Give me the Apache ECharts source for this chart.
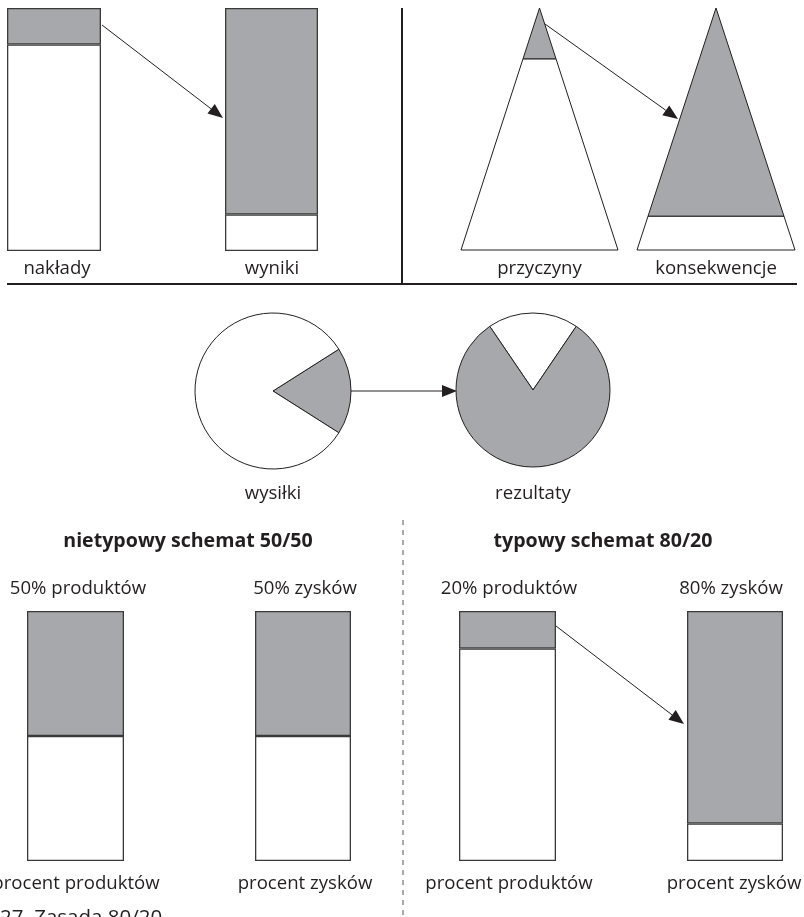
<!DOCTYPE html>
<html><head><meta charset="utf-8">
<script src="https://cdn.jsdelivr.net/npm/echarts@6/dist/echarts.min.js"></script>
<style>html,body{margin:0;padding:0;background:#fff}#c{width:804px;height:917px}</style>
</head><body><div id="c"></div>
<script>
// ---------- data ----------
const barCategories = ['nakłady', 'wyniki', 'procent produktów', 'procent zysków', 'procent produktów', 'procent zysków'];
const barShaded = [15, 85, 50, 50, 15, 85];   // grey part (top), % of bar height
const barPlain  = [85, 15, 50, 50, 85, 15];   // white part (bottom)
const triangleCategories = ['przyczyny', 'konsekwencje'];
const triangleShaded = [21, 86];              // grey part from apex, % of height
const pieCategories = ['wysiłki', 'rezultaty'];
const pieShaded = [18, 81];
const piePlain  = [82, 19];
const topLabels = ['50% produktów', '50% zysków', '20% produktów', '80% zysków'];
const sectionTitles = ['nietypowy schemat 50/50', 'typowy schemat 80/20'];
const caption = '27. Zasada 80/20';

// ---------- layout & style ----------
const GREY = '#a7a8ab', INK = '#231f20', FONT = '"Open Sans", "Noto Sans", sans-serif';
const LABEL_FONT = '18.6px ' + FONT;
const barBoxes = [[7, 8, 94, 243], [225, 8, 93, 243], [27, 611, 97, 250], [255, 611, 96, 250], [459, 611, 97, 250], [687, 611, 96, 250]];
const barLabelY = [269, 269, 884, 884, 884, 884];
const barLabelX = [57, 272, 76, 305, 509, 734];
const triBoxes = [[461, 8, 157, 242], [637, 8, 158, 242]];
const pieGeom = [[273, 391, 78], [533, 390, 77]];
const topLabelPos = [[78, 589], [305, 589], [509, 589], [731, 589]];
const titlePos = [[188, 541], [603, 541]];
const arrows = [[102, 25, 223, 118], [545, 24, 678, 119], [351, 391, 457, 391], [556, 626, 684, 724]];

const grid = [], xAxis = [], yAxis = [], series = [], graphic = [];
const hidden = { show: false };
function axisOff(o) { return Object.assign({ axisLine: hidden, axisTick: hidden, axisLabel: hidden, splitLine: hidden }, o); }
function label(text, x, y, font, align) {
  return { type: 'text', x: x, y: y, style: { text: text, fill: INK, font: font || LABEL_FONT, align: align || 'center', verticalAlign: 'middle' } };
}

barCategories.forEach((cat, i) => {
  const b = barBoxes[i];
  grid.push({ left: b[0], top: b[1], width: b[2], height: b[3] });
  xAxis.push(axisOff({ type: 'category', gridIndex: i, data: [cat] }));
  yAxis.push(axisOff({ type: 'value', gridIndex: i, min: 0, max: 100 }));
  const common = { type: 'bar', xAxisIndex: i, yAxisIndex: i, stack: 's' + i, barWidth: '100%', silent: true };
  series.push(Object.assign({ data: [barPlain[i]], itemStyle: { color: '#fff', borderColor: '#3a3a3a', borderWidth: 1.3 } }, common));
  series.push(Object.assign({ data: [barShaded[i]], itemStyle: { color: GREY, borderColor: '#3a3a3a', borderWidth: 1.3 } }, common));
  graphic.push(label(cat, barLabelX[i], barLabelY[i]));
});

triangleCategories.forEach((cat, j) => {
  const gi = grid.length, t = triBoxes[j];
  grid.push({ left: t[0], top: t[1], width: t[2], height: t[3] });
  xAxis.push(axisOff({ type: 'value', gridIndex: gi, min: -1, max: 1 }));
  yAxis.push(axisOff({ type: 'value', gridIndex: gi, min: 0, max: 100, inverse: true }));
  series.push({
    type: 'custom', xAxisIndex: gi, yAxisIndex: gi, clip: false, silent: true,
    data: [[0, triangleShaded[j]]],
    renderItem: function (params, api) {
      const s = api.value(1);
      const apex = api.coord([0, 0]), l = api.coord([-s / 100, s]), r = api.coord([s / 100, s]);
      const bl = api.coord([-1, 100]), br = api.coord([1, 100]);
      return { type: 'group', children: [
        { type: 'polygon', shape: { points: [l, r, br, bl] }, style: { fill: '#fff', stroke: INK, lineWidth: 1 } },
        { type: 'polygon', shape: { points: [apex, r, l] }, style: { fill: GREY, stroke: INK, lineWidth: 1 } }
      ] };
    }
  });
  graphic.push(label(cat, t[0] + t[2] / 2, 269));
});

pieCategories.forEach((cat, k) => {
  const g = pieGeom[k];
  const shadedItem = { name: 'shaded', value: pieShaded[k], itemStyle: { color: GREY } };
  const plainItem = { name: 'plain', value: piePlain[k], itemStyle: { color: '#fff' } };
  const first = k === 0 ? shadedItem : plainItem;
  const total = pieShaded[k] + piePlain[k];
  // first sector centred on the right (k=0) or on the top (k=1)
  const startAngle = (k === 0 ? 0 : 90) + (first.value / total) * 180;
  series.push({
    type: 'pie', center: [g[0], g[1]], radius: g[2], startAngle: startAngle, clockwise: true, silent: true,
    label: hidden, labelLine: hidden, emphasis: { disabled: true },
    itemStyle: { borderColor: INK, borderWidth: 1 },
    data: k === 0 ? [shadedItem, plainItem] : [plainItem, shadedItem]
  });
  graphic.push(label(cat, g[0], 494));
});

topLabels.forEach((t, i) => graphic.push(label(t, topLabelPos[i][0], topLabelPos[i][1])));
sectionTitles.forEach((t, i) => graphic.push(label(t, titlePos[i][0], titlePos[i][1], 'bold 19.6px ' + FONT)));
graphic.push(label(caption, 0, 918, '20.5px ' + FONT, 'left'));

// dividers
graphic.push({ type: 'line', shape: { x1: 7, y1: 284, x2: 797, y2: 284 }, style: { stroke: INK, lineWidth: 2 } });
graphic.push({ type: 'line', shape: { x1: 402, y1: 8, x2: 402, y2: 284 }, style: { stroke: INK, lineWidth: 2 } });
graphic.push({ type: 'line', shape: { x1: 403, y1: 520, x2: 403, y2: 917 }, style: { stroke: '#555', lineWidth: 1, lineDash: [5, 5] } });

// arrows
arrows.forEach(a => {
  const dx = a[2] - a[0], dy = a[3] - a[1], len = Math.hypot(dx, dy);
  const ux = dx / len, uy = dy / len, nx = -uy, ny = ux, L = 15, W = 6;
  const bx = a[2] - ux * L, by = a[3] - uy * L;
  graphic.push({ type: 'line', shape: { x1: a[0], y1: a[1], x2: bx, y2: by }, style: { stroke: INK, lineWidth: 1 } });
  graphic.push({ type: 'polygon', shape: { points: [[a[2], a[3]], [bx + nx * W, by + ny * W], [bx - nx * W, by - ny * W]] }, style: { fill: INK } });
});

const chart = echarts.init(document.getElementById('c'));
chart.setOption({ animation: false, backgroundColor: '#fff', grid, xAxis, yAxis, series, graphic });
</script></body></html>
